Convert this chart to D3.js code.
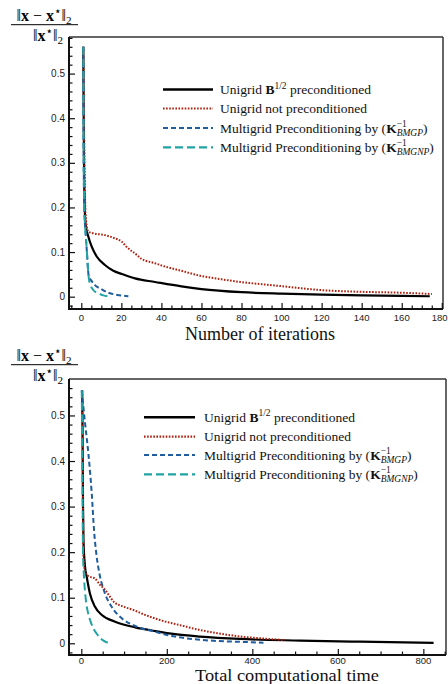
<!DOCTYPE html>
<html><head><meta charset="utf-8">
<script src="https://cdn.jsdelivr.net/npm/d3@7"></script>
<style>html,body{margin:0;padding:0;background:#fff}svg{display:block}</style>
</head><body>
<svg id="c" width="448" height="684"></svg>
<script>
// ---------- DATA ----------
const seriesNames = ["Unigrid B1/2 preconditioned", "Unigrid not preconditioned",
  "Multigrid Preconditioning by (K-1 BMGP)", "Multigrid Preconditioning by (K-1 BMGNP)"];
const seriesColors = ["#000000", "#b0200e", "#1f5d9e", "#22a3a3"];

// Top chart: vs number of iterations
const iterBlackX = [1, 1.2, 1.4, 1.7, 2.2, 3.5, 5.2, 7.7, 11.8, 16, 20.2, 26.8, 36.8, 50, 60, 80, 100, 120, 140, 160, 174];
const iterBlackY = [0.56, 0.4, 0.28, 0.2, 0.16, 0.135, 0.112, 0.09, 0.071, 0.058, 0.051, 0.041, 0.033, 0.023, 0.017, 0.010, 0.0067, 0.0045, 0.003, 0.002, 0.001];
const iterRedX = [1, 1.3, 1.6, 2, 2.5, 3.5, 6, 11.8, 16, 20.2, 23, 26.8, 30, 36.8, 40, 50, 59.3, 70, 79.3, 90, 99, 119, 139, 159, 175];
const iterRedY = [0.56, 0.42, 0.3, 0.2, 0.165, 0.146, 0.142, 0.138, 0.132, 0.123, 0.11, 0.097, 0.085, 0.075, 0.07, 0.058, 0.047, 0.039, 0.033, 0.028, 0.024, 0.015, 0.011, 0.009, 0.006];
const iterBlueX = [1, 1.2, 1.5, 2.2, 2.8, 3.2, 3.7, 5, 6.8, 10, 13.5, 18, 23.5];
const iterBlueY = [0.56, 0.3, 0.2, 0.14, 0.1, 0.07, 0.047, 0.036, 0.026, 0.017, 0.009, 0.004, 0.001];
const iterTealX = [1, 1.2, 1.5, 2.2, 2.8, 3.3, 3.8, 4.6, 6, 8.5, 11, 13.5];
const iterTealY = [0.56, 0.3, 0.2, 0.14, 0.1, 0.065, 0.04, 0.026, 0.015, 0.0076, 0.003, 0.0005];

// Bottom chart: vs total computational time
const timeBlackX = [2, 3, 4, 5, 8.7, 12.6, 20, 32, 48, 79, 126, 172, 219, 278, 371, 512, 652, 824];
const timeBlackY = [0.555, 0.45, 0.3, 0.227, 0.168, 0.146, 0.11, 0.08, 0.062, 0.0475, 0.035, 0.027, 0.02, 0.0147, 0.0095, 0.006, 0.0035, 0.001];
const timeRedX = [2, 3, 4, 5, 8, 12.6, 20, 32, 44, 55, 65, 75, 100, 122, 150, 184, 230, 278, 320, 371, 420, 475];
const timeRedY = [0.555, 0.45, 0.3, 0.19, 0.16, 0.15, 0.146, 0.142, 0.128, 0.118, 0.105, 0.092, 0.08, 0.073, 0.062, 0.051, 0.04, 0.029, 0.022, 0.015, 0.011, 0.007];
const timeBlueX = [1, 8.7, 16.4, 24.3, 30, 36, 43, 55, 71, 94.5, 126, 172, 219, 266, 320, 380, 426];
const timeBlueY = [0.555, 0.483, 0.418, 0.33, 0.245, 0.19, 0.15, 0.11, 0.08, 0.055, 0.038, 0.0256, 0.0147, 0.0088, 0.005, 0.003, 0.0013];
const timeTealX = [1, 2, 3, 4, 6, 9, 12, 16, 22, 28, 36, 44, 52, 60, 67];
const timeTealY = [0.555, 0.45, 0.3, 0.2, 0.15, 0.11, 0.085, 0.066, 0.047, 0.033, 0.021, 0.012, 0.006, 0.002, 0.001];

const yMajorTicks = [0, 0.1, 0.2, 0.3, 0.4, 0.5];
const iterMajorTicks = [0, 20, 40, 60, 80, 100, 120, 140, 160, 180];
const timeMajorTicks = [0, 200, 400, 600, 800];
const xTitles = ["Number of iterations", "Total computational time"];

// ---------- DRAW ----------
const svg = d3.select("#c");
const serif = "'Liberation Serif', 'DejaVu Serif', serif";
const sans = "'Liberation Sans', Arial, sans-serif";
const dashes = [null, "1.6,1.5", "5,3", "8,4"];
const widths = [2.2, 2, 2, 2];

function drawYTitle(g, x0, y0) {
  const num = g.append("text").attr("x", x0 + 34).attr("y", y0 + 20.5)
    .attr("text-anchor", "middle").attr("font-family", serif).attr("font-size", 16);
  num.append("tspan").text("\u2016");
  num.append("tspan").attr("font-weight", "bold").text("x");
  num.append("tspan").text(" \u2212 ");
  num.append("tspan").attr("font-weight", "bold").text("x");
  num.append("tspan").attr("font-size", 12).attr("font-family", "'DejaVu Sans'").attr("dy", -6).text("\u22c6");
  num.append("tspan").attr("dy", 6).text("\u2016");
  num.append("tspan").attr("font-size", 11).attr("dy", 3).text("2");
  g.append("line").attr("x1", x0 + 1).attr("x2", x0 + 68).attr("y1", y0 + 24.7).attr("y2", y0 + 24.7)
    .attr("stroke", "#000").attr("stroke-width", 1);
  const den = g.append("text").attr("x", x0 + 38).attr("y", y0 + 40.5)
    .attr("text-anchor", "middle").attr("font-family", serif).attr("font-size", 16);
  den.append("tspan").text("\u2016");
  den.append("tspan").attr("font-weight", "bold").text("x");
  den.append("tspan").attr("font-size", 12).attr("font-family", "'DejaVu Sans'").attr("dy", -6).text("\u22c6");
  den.append("tspan").attr("dy", 6).text("\u2016");
  den.append("tspan").attr("font-size", 11).attr("dy", 3).text("2");
}

function measure(str, size, family, style) {
  const t = svg.append("text").attr("font-size", size).attr("font-family", family)
    .attr("font-style", style || "normal").text(str);
  const w = t.node().getComputedTextLength();
  t.remove();
  return w;
}

function legendLabel(g, i, x, y) {
  const fs = 13.5;
  const t = g.append("text").attr("x", x).attr("y", y).attr("font-family", serif).attr("font-size", fs).attr("fill", "#111");
  if (i === 0) {
    t.append("tspan").text("Unigrid ");
    t.append("tspan").attr("font-weight", "bold").text("B");
    t.append("tspan").attr("font-size", 9.5).attr("dy", -5.5).text("1/2");
    t.append("tspan").attr("dy", 5.5).text(" preconditioned");
  } else if (i === 1) {
    t.text("Unigrid not preconditioned");
  } else {
    const sub = i === 2 ? "BMGP" : "BMGNP";
    t.append("tspan").text("Multigrid Preconditioning by (");
    t.append("tspan").attr("font-weight", "bold").text("K");
    const w1 = measure("\u22121", 9.5, serif);
    t.append("tspan").attr("font-size", 9.5).attr("dy", -5.5).text("\u22121");
    t.append("tspan").attr("font-size", 9.5).attr("font-style", "italic").attr("dx", -w1).attr("dy", 9).text(sub);
    t.append("tspan").attr("dy", -3.5).text(")");
  }
}

function drawChart(opt) {
  const g = svg.append("g");
  const x = d3.scaleLinear().domain(opt.xDomain).range([opt.left, opt.right]);
  const y = d3.scaleLinear().domain(opt.yDomain).range([opt.bottom, opt.top]);

  // series
  const line = d3.line().x(d => x(d[0])).y(d => y(d[1])).curve(d3.curveMonotoneX);
  opt.series.forEach((s, i) => {
    const pts = s.x.map((v, k) => [v, s.y[k]]);
    g.append("path").attr("d", line(pts)).attr("fill", "none")
      .attr("stroke", seriesColors[i]).attr("stroke-width", widths[i])
      .attr("stroke-dasharray", dashes[i]);
  });

  // legend
  opt.legendRows.forEach((ly, i) => {
    g.append("line").attr("x1", opt.legendX1).attr("x2", opt.legendX2).attr("y1", ly).attr("y2", ly)
      .attr("stroke", seriesColors[i]).attr("stroke-width", widths[i] + 0.2)
      .attr("stroke-dasharray", dashes[i]);
    legendLabel(g, i, opt.legendText, ly + 4.5);
  });

  // frame
  g.append("line").attr("x1", opt.left).attr("x2", opt.right).attr("y1", opt.top).attr("y2", opt.top).attr("stroke", "#333").attr("stroke-width", 1.5);
  g.append("line").attr("x1", opt.right).attr("x2", opt.right).attr("y1", opt.top).attr("y2", opt.bottom).attr("stroke", "#333").attr("stroke-width", 1.5);

  // y axis (ticks inward)
  const yMinor = d3.range(-0.02, opt.yDomain[1], 0.02).map(v => +v.toFixed(2)).filter(v => !yMajorTicks.some(m => Math.abs(m - v) < 1e-9));
  const yAxis = d3.axisRight(y).tickValues(yMajorTicks).tickSize(6).tickFormat("");
  const yAxisMinor = d3.axisRight(y).tickValues(yMinor).tickSize(3.5).tickFormat("");
  [yAxis, yAxisMinor].forEach(a => {
    const ga = g.append("g").attr("transform", `translate(${opt.left},0)`).call(a);
    ga.select(".domain").remove();
    ga.selectAll("line").attr("stroke", "#111").attr("stroke-width", 1.2);
  });
  yMajorTicks.forEach(v => {
    g.append("text").attr("x", opt.left - 4).attr("y", y(v)).attr("dy", "0.35em")
      .attr("text-anchor", "end").attr("font-family", sans).attr("font-size", 10).attr("fill", "#222")
      .text(v === 0 ? "0" : d3.format(".1f")(v));
  });

  // x axis (ticks inward)
  const xAxis = d3.axisTop(x).tickValues(opt.xMajor).tickSize(6).tickFormat("");
  const xAxisMinor = d3.axisTop(x).tickValues(opt.xMinor).tickSize(3.5).tickFormat("");
  [xAxis, xAxisMinor].forEach(a => {
    const ga = g.append("g").attr("transform", `translate(0,${opt.bottom})`).call(a);
    ga.select(".domain").remove();
    ga.selectAll("line").attr("stroke", "#111").attr("stroke-width", 1.2);
  });
  opt.xMajor.forEach(v => {
    const lab = String(v);
    const w = measure(lab, 9.5, sans);
    const cx = Math.min(x(v), 447.5 - w / 2);
    g.append("text").attr("x", cx).attr("y", opt.bottom + opt.tickLabelDy)
      .attr("text-anchor", "middle").attr("font-family", sans).attr("font-size", 9.5).attr("fill", "#222")
      .text(lab);
  });

  // left & bottom axis lines (thick)
  g.append("line").attr("x1", opt.left).attr("x2", opt.left).attr("y1", opt.top).attr("y2", opt.bottom + 1).attr("stroke", "#111").attr("stroke-width", 2);
  g.append("line").attr("x1", opt.left - 1).attr("x2", opt.right).attr("y1", opt.bottom).attr("y2", opt.bottom).attr("stroke", "#111").attr("stroke-width", 2);

  const tt = g.append("text").attr("x", opt.titleX).attr("y", opt.titleY).attr("text-anchor", "middle")
    .attr("font-family", serif).attr("font-size", opt.titleSize)
    .attr("fill", "#111").text(opt.title);
  if (opt.titleLength) tt.attr("textLength", opt.titleLength).attr("lengthAdjust", "spacingAndGlyphs");

  drawYTitle(g, 10, opt.yTitleTop);
}

drawChart({
  left: 69, right: 443, top: 37, bottom: 309,
  xDomain: [-6.14, 180.6], yDomain: [-0.0276, 0.582],
  xMajor: iterMajorTicks,
  xMinor: d3.range(-5, 181, 5).filter(v => v % 20 !== 0),
  series: [
    {x: iterBlackX, y: iterBlackY}, {x: iterRedX, y: iterRedY},
    {x: iterBlueX, y: iterBlueY}, {x: iterTealX, y: iterTealY}],
  legendRows: [89.5, 108.5, 128, 147.3], legendX1: 163, legendX2: 213, legendText: 220,
  tickLabelDy: 12,
  title: xTitles[0], titleX: 260, titleY: 340, titleSize: 18, titleLength: null, yTitleTop: 0
});

drawChart({
  left: 69, right: 446, top: 379, bottom: 655,
  xDomain: [-28.8, 853], yDomain: [-0.0257, 0.58],
  xMajor: timeMajorTicks,
  xMinor: d3.range(-0, 851, 50).filter(v => v % 200 !== 0),
  series: [
    {x: timeBlackX, y: timeBlackY}, {x: timeRedX, y: timeRedY},
    {x: timeBlueX, y: timeBlueY}, {x: timeTealX, y: timeTealY}],
  legendRows: [417.3, 436.7, 455, 474.3], legendX1: 144, legendX2: 195, legendText: 204,
  tickLabelDy: 9,
  title: xTitles[1], titleX: 287, titleY: 680.5, titleSize: 16, titleLength: 184, yTitleTop: 340
});
</script>
</body></html>
